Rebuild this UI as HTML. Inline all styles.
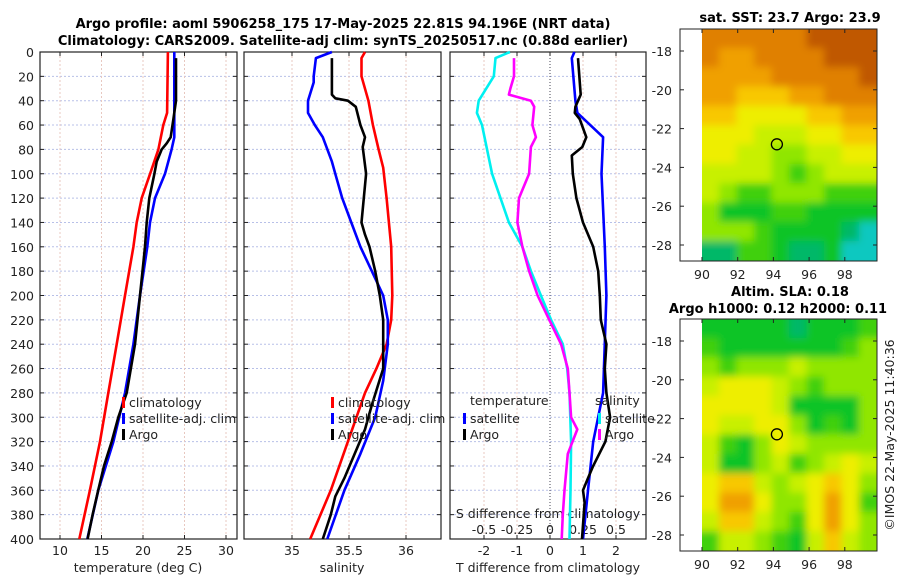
<!DOCTYPE html>
<html><head><meta charset="utf-8">
<style>
body{margin:0;background:#fff;}
svg{display:block;font-family:"DejaVu Sans","Liberation Sans",sans-serif;}
.t{font-size:12.5px;fill:#222;}
.b{font-size:13px;font-weight:bold;fill:#000;}
</style></head>
<body>
<svg id="chart" width="900" height="580" viewBox="0 0 900 580" xmlns="http://www.w3.org/2000/svg">
<defs>
<filter id="blur" filterUnits="userSpaceOnUse" x="650" y="0" width="250" height="580"><feGaussianBlur stdDeviation="4"/></filter>
<clipPath id="clipTop"><rect x="702" y="29" width="175" height="232"/></clipPath>
<clipPath id="clipBot"><rect x="702" y="319" width="175" height="232"/></clipPath>
</defs>
<text class="b" x="343" y="28" text-anchor="middle">Argo profile: aoml 5906258_175 17-May-2025 22.81S 94.196E (NRT data)</text>
<text class="b" x="343" y="45" text-anchor="middle">Climatology: CARS2009. Satellite-adj clim: synTS_20250517.nc (0.88d earlier)</text>
<text class="b" x="790" y="22" text-anchor="middle">sat. SST: 23.7 Argo: 23.9</text>
<text class="b" x="790" y="296" text-anchor="middle">Altim. SLA: 0.18</text>
<text class="b" x="778" y="313" text-anchor="middle">Argo h1000: 0.12 h2000: 0.11</text>
<text class="t" x="0" y="0" transform="translate(894,435) rotate(-90)" text-anchor="middle">©IMOS 22-May-2025 11:40:36</text>
<g id="g"></g>
</svg>
<script>
// ---------- data ----------
const depthTicks=[0,20,40,60,80,100,120,140,160,180,200,220,240,260,280,300,320,340,360,380,400];
const tempTicks=[10,15,20,25,30];
const salTicks=[35,35.5,36];
const tdiffTicks=[-2,-1,0,1,2];
const sdiffTicks=[-0.5,-0.25,0,0.25,0.5];
const sdiffLabels=["-0.5","-0.25","0","0.25","0.5"];

const tClimD=[0,50,60,80,100,120,140,160,200,240,280,320,360,400];
const tClimV=[23.0,22.9,22.45,21.85,20.85,19.84,19.24,18.84,17.83,16.83,15.82,14.82,13.6,12.33];
const tSatD=[0,70,80,100,120,140,160,200,240,280,320,360,400];
const tSatV=[23.77,23.77,23.45,22.65,21.45,20.84,20.52,19.64,18.84,17.83,16.43,14.62,13.29];
const tArgoD=[5,40,55,70,75,80,90,100,120,140,160,200,240,280,300,320,340,360,380,400];
const tArgoV=[23.98,23.98,23.66,23.34,22.85,22.25,21.65,21.37,20.76,20.44,20.24,19.64,19.04,18.04,17.03,16.23,15.3,14.6,13.93,13.33];

const sClimD=[0,5,20,40,60,80,95,120,160,200,220,240,260,280,320,360,400];
const sClimV=[35.64,35.61,35.61,35.67,35.71,35.76,35.80,35.83,35.87,35.88,35.87,35.83,35.74,35.64,35.49,35.34,35.16];
const sSatD=[0,5,20,25,40,50,60,70,90,100,120,140,160,180,200,220,240,270,300,330,360,400];
const sSatV=[35.35,35.21,35.19,35.19,35.14,35.14,35.2,35.27,35.35,35.38,35.44,35.52,35.6,35.7,35.80,35.84,35.84,35.8,35.73,35.6,35.46,35.31];
const sArgoD=[5,35,38,40,45,60,70,78,100,120,140,150,160,180,200,220,240,260,290,310,330,350,365,380,400];
const sArgoV=[35.35,35.35,35.38,35.49,35.56,35.6,35.64,35.62,35.65,35.63,35.61,35.64,35.68,35.73,35.77,35.8,35.8,35.8,35.7,35.64,35.55,35.46,35.38,35.34,35.27];

const dtSatD=[0,5,40,50,70,100,160,200,280,320,360,400];
const dtSatV=[0.74,0.66,0.77,0.83,1.61,1.56,1.66,1.71,1.61,1.31,1.15,1.0];
const dtArgoD=[5,35,45,50,55,70,78,85,100,120,140,160,180,200,220,240,260,280,300,320,340,350,360,370,400];
const dtArgoV=[0.85,0.93,0.77,0.75,0.9,1.1,0.98,0.66,0.69,0.8,1.0,1.31,1.46,1.51,1.54,1.71,1.66,1.71,1.82,1.68,1.31,1.15,1.0,1.05,0.97];
const dsSatD=[0,5,20,40,50,60,100,140,160,180,200,220,240,260,280,320,360,400];
const dsSatV=[-0.304,-0.413,-0.426,-0.54,-0.554,-0.515,-0.439,-0.311,-0.209,-0.145,-0.069,0.008,0.097,0.13,0.148,0.16,0.155,0.148];
const dsArgoD=[5,20,30,35,40,45,60,70,78,100,120,140,160,180,200,220,240,260,280,300,310,330,360,380,400];
const dsArgoV=[-0.273,-0.273,-0.3,-0.311,-0.145,-0.12,-0.133,-0.107,-0.145,-0.158,-0.235,-0.247,-0.209,-0.158,-0.094,-0.005,0.084,0.135,0.148,0.16,0.207,0.135,0.11,0.097,0.089];

const lonTicks=[90,92,94,96,98];
const latTicks=[-18,-20,-22,-24,-26,-28];
const argoLon=94.196, argoLat=-22.81;
const sstGrid=[
[9,9,9,9,9,9,10,10,10,10],
[9,8,8,9,9,9,9,10,10,10],
[8,8,8,8,9,9,9,9,9,10],
[8,8,7,7,7,8,8,9,9,9],
[7,7,6,6,6,6,7,7,8,8],
[6,6,6,5,5,5,6,6,7,7],
[6,6,5,5,4,4,5,5,6,6],
[5,5,5,5,4,3,4,5,5,5],
[5,4,3,3,4,4,4,3,3,3],
[4,2,2,2,3,3,2,2,2,2],
[4,4,4,3,2,2,2,2,1,0],
[1,1,3,3,2,1,1,2,0,0]];
const slaGrid=[
[2,2,2,2,2,1,2,2,2,3],
[3,2,2,2,2,2,2,2,3,4],
[4,3,4,4,4,5,4,4,4,4],
[5,6,6,6,5,4,3,4,4,4],
[6,6,6,6,5,2,2,2,2,4],
[6,5,5,6,6,4,2,3,2,4],
[5,3,2,4,6,5,4,4,4,4],
[5,2,2,4,5,3,4,5,6,5],
[6,7,7,5,4,5,6,7,6,4],
[6,8,8,6,4,4,6,8,6,3],
[5,7,7,5,4,3,6,8,6,4],
[3,5,5,4,3,2,5,7,5,4]];
const cmap=["#10c8c0","#00b868","#10c428","#40d010","#90e600","#c8f000","#eeee00","#f8c800","#f0a000","#e08000","#c05800"];

// ---------- helpers ----------
const NS="http://www.w3.org/2000/svg";
const G=document.getElementById('g');
function mk(tag,attrs,parent){const e=document.createElementNS(NS,tag);for(const k in attrs)e.setAttribute(k,attrs[k]);(parent||G).appendChild(e);return e;}
const yD=d=>52+d*1.2175;
const xT=v=>60+(v-10)*8.3;
const xS=v=>292+(v-35)*114;
const xDT=v=>550+v*33;
const xDS=v=>550+v*132;
const panels=[{x0:40,x1:237,name:'temperature-panel'},{x0:244,x1:441,name:'salinity-panel'},{x0:450,x1:646,name:'difference-panel'}];
const Y0=52,Y1=539;

function line(D,V,xf,color,name){
  const pts=D.map((d,i)=>xf(V[i]).toFixed(1)+','+yD(d).toFixed(1)).join(' ');
  const p=mk('polyline',{points:pts,fill:'none',stroke:color,'stroke-width':2.6,'stroke-linejoin':'round'});
  
  
}
function text(x,y,s,anchor,name,cls){
  const t=mk('text',{x:x,y:y,'text-anchor':anchor||'start',class:cls||'t'});
  t.textContent=s;
  
  
  return t;
}

panels.forEach((p,pi)=>{
  depthTicks.forEach(d=>{
    const l=mk('line',{x1:p.x0,x2:p.x1,y1:yD(d),y2:yD(d),stroke:'#b8c0e8','stroke-width':1,'stroke-dasharray':'2,2'});
    
    
    mk('line',{x1:p.x0,x2:p.x0+4,y1:yD(d),y2:yD(d),stroke:'#222'});
    mk('line',{x1:p.x1-4,x2:p.x1,y1:yD(d),y2:yD(d),stroke:'#222'});
    if(pi===0){text(34,yD(d)+5,String(d),'end','depth-tick-label');}
  });
});
const vg=[[tempTicks,xT,0],[salTicks,xS,1],[tdiffTicks,xDT,2]];
vg.forEach(([ticks,xf,pi])=>{
  ticks.forEach(v=>{
    const isZero=(pi===2&&v===0);
    const l=mk('line',{x1:xf(v),x2:xf(v),y1:Y0,y2:Y1,stroke:isZero?'#445':'#e8c8c0','stroke-width':1,'stroke-dasharray':isZero?'1,2':'2,2'});
    
    
    mk('line',{x1:xf(v),x2:xf(v),y1:Y1-4,y2:Y1,stroke:'#222'});
    mk('line',{x1:xf(v),x2:xf(v),y1:Y0,y2:Y0+4,stroke:'#222'});
    text(xf(v),555,String(v),'middle','x-tick-label');
  });
});
panels.forEach(p=>{
  const r=mk('rect',{x:p.x0,y:Y0,width:p.x1-p.x0,height:Y1-Y0,fill:'none',stroke:'#222','stroke-width':1.2});
  
  
});
text(138,572,'temperature (deg C)','middle','temperature-axis-title');
text(342,572,'salinity','middle','salinity-axis-title');
text(548,572,'T difference from climatology','middle','t-difference-axis-title');
text(548,518,'S difference from climatology','middle','s-difference-axis-title');
sdiffTicks.forEach((v,i)=>text(xDS(v),534,sdiffLabels[i],'middle','s-difference-tick-label'));

line(tClimD,tClimV,xT,'#ff0000','temp-climatology-line');
line(tSatD,tSatV,xT,'#0000ff','temp-satellite-line');
line(tArgoD,tArgoV,xT,'#000000','temp-argo-line');
line(sClimD,sClimV,xS,'#ff0000','salinity-climatology-line');
line(sSatD,sSatV,xS,'#0000ff','salinity-satellite-line');
line(sArgoD,sArgoV,xS,'#000000','salinity-argo-line');
line(dsSatD,dsSatV,xDS,'#00f0f0','s-diff-satellite-line');
line(dsArgoD,dsArgoV,xDS,'#ff00ff','s-diff-argo-line');
line(dtSatD,dtSatV,xDT,'#0000ff','t-diff-satellite-line');
line(dtArgoD,dtArgoV,xDT,'#000000','t-diff-argo-line');

function legend(x,y,color,label){
  const r=mk('rect',{x:x,y:y-9,width:3,height:11,fill:color});
  
  
  text(x+7,y+1,label,'start','legend-entry');
}
legend(122,406,'#ff0000','climatology');
legend(122,422,'#0000ff','satellite-adj. clim');
legend(122,438,'#000000','Argo');
legend(331,406,'#ff0000','climatology');
legend(331,422,'#0000ff','satellite-adj. clim');
legend(331,438,'#000000','Argo');
text(470,405,'temperature','start','legend-title-temperature');
legend(463,422,'#0000ff','satellite');
legend(463,438,'#000000','Argo');
text(595,405,'salinity','start','legend-title-salinity');
legend(598,422,'#00f0f0','satellite');
legend(598,438,'#ff00ff','Argo');

function map(grid,top,clip,name,lat18y){
  const lonX=v=>702+(v-90)*17.85;
  const latY=v=>lat18y+(-18-v)*19.4;
  const g=mk('g',{'clip-path':'url(#'+clip+')'});
  
  
  const inner=mk('g',{filter:'url(#blur)'},g);
  const rows=grid.length,cols=grid[0].length;
  const cw=175/cols,ch=232/rows;
  grid.forEach((row,r)=>row.forEach((v,c)=>{
    // extend edge cells outward so the blur doesn't fade at borders
    const x=702+c*cw-(c===0?12:0.5), y=top+r*ch-(r===0?12:0.5);
    const w=cw+1+(c===0?12:0)+(c===cols-1?12:0), h=ch+1+(r===0?12:0)+(r===rows-1?12:0);
    const cell=mk('rect',{x:x.toFixed(1),y:y.toFixed(1),width:w.toFixed(1),height:h.toFixed(1),fill:cmap[v]},inner);
    
    
  }));
  const fr=mk('rect',{x:680,y:top,width:197,height:232,fill:'none',stroke:'#222','stroke-width':1});
  
  
  lonTicks.forEach(v=>{
    mk('line',{x1:lonX(v),x2:lonX(v),y1:top+232-4,y2:top+232,stroke:'#222'});
    mk('line',{x1:lonX(v),x2:lonX(v),y1:top,y2:top+4,stroke:'#222'});
    text(lonX(v),top+250,String(v),'middle',name+'-lon-label');
  });
  latTicks.forEach(v=>{
    mk('line',{x1:873,x2:877,y1:latY(v),y2:latY(v),stroke:'#222'});
    mk('line',{x1:680,x2:684,y1:latY(v),y2:latY(v),stroke:'#222'});
    text(672,latY(v)+5,String(v),'end',name+'-lat-label');
  });
  const c=mk('circle',{cx:lonX(argoLon),cy:latY(argoLat),r:5.5,fill:'none',stroke:'#000','stroke-width':1.3});
  
  
}
map(sstGrid,29,'clipTop','sst-map',51);
map(slaGrid,319,'clipBot','sla-map',341);
</script>
</body></html>
